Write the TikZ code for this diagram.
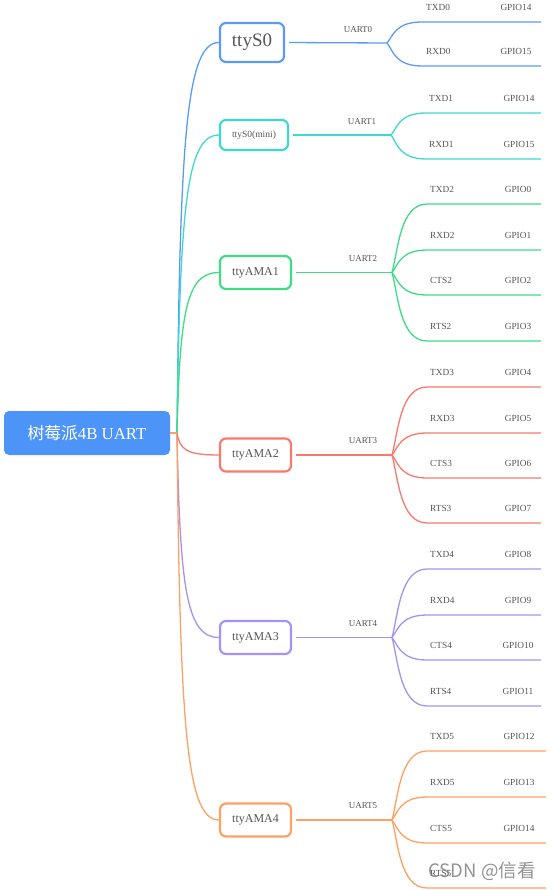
\documentclass[tikz,border=0pt]{standalone}
\usepackage{fontspec}
\setmainfont{Liberation Serif}
\newfontfamily\cjk{Noto Sans CJK SC}
\usetikzlibrary{calc}
\definecolor{cblue}{HTML}{5B9BF6}
\definecolor{rootblue}{HTML}{4D94F8}
\definecolor{cteal}{HTML}{3FD8D0}
\definecolor{cgreen}{HTML}{3EDC85}
\definecolor{cred}{HTML}{F87A6C}
\definecolor{cpurple}{HTML}{A592F2}
\definecolor{corange}{HTML}{FFA064}
\definecolor{txt}{HTML}{555555}
\tikzset{
  rootbox/.style={fill=rootblue, rounded corners=5pt, minimum width=166pt, minimum height=44pt,
    text=white, inner sep=0pt, font=\fontsize{16.8}{18}\selectfont},
  ttybox/.style={draw=#1, line width=2.2pt, fill=white, rounded corners=6pt, text=txt,
    inner sep=0pt, minimum width=71pt, minimum height=33pt, font=\fontsize{12}{14}\selectfont},
  conn/.style={draw=#1, line width=1.3pt},
  lab/.style={text=txt, inner sep=0pt, font=\fontsize{9}{10}\selectfont},
  leaflab/.style={text=txt, inner sep=0pt, font=\fontsize{9.3}{10}\selectfont},
}
\newcommand\drawleaves[8]{%
  \foreach \ly/\la/\lg [count=\k] in {#8}{%
    \pgfmathsetmacro\cya{#4+(\ly-#4)*0.32}%
    \coordinate (#2s\k) at (#3+35,\ly);
    \coordinate (#2e\k) at (#7,\ly);
    \draw[conn=#1] (#2b) .. controls (#3+6,\cya) and (#3+8,\ly) .. (#2s\k) -- (#2e\k);
    \node[leaflab,anchor=west] (#2a\k) at (#5,\ly-14.5) {\la};
    \node[leaflab] (#2g\k) at (#6,\ly-14.5) {\lg};
  }%
}
\newcommand\rootlink[3]{% colour, node, y
  \pgfmathsetmacro\rmid{#3+(433-#3)*0.25}%
  \draw[conn=#1] (hub) .. controls (180,\rmid) and (186,#3) .. (#2.west);
}
\begin{document}
\begin{tikzpicture}[x=1pt,y=-1pt]
\useasboundingbox (0,0) rectangle (553,890);
% root
\node[rootbox] (root) at (87,433) {{\cjk 树莓派}4B UART};
\coordinate (hub) at (177,433);
% level 1
\node[ttybox=cblue, minimum width=64pt, minimum height=39pt, font=\fontsize{19}{21}\selectfont] (n0) at (252,42.5) {ttyS0};
\node[ttybox=cteal, minimum width=68pt, minimum height=30pt, font=\fontsize{9.5}{11}\selectfont] (n1) at (254,135) {ttyS0(mini)};
\node[ttybox=cgreen] (n2) at (255.5,272.5) {ttyAMA1};
\node[ttybox=cred] (n3) at (255.5,455) {ttyAMA2};
\node[ttybox=cpurple] (n4) at (255.5,637.5) {ttyAMA3};
\node[ttybox=corange] (n5) at (255.5,820) {ttyAMA4};
% root connectors
\rootlink{cblue}{n0}{42.5}
\rootlink{cteal}{n1}{135}
\rootlink{cgreen}{n2}{272.5}
\rootlink{cpurple}{n4}{637.5}
\rootlink{corange}{n5}{820}
\rootlink{cred}{n3}{455}
\draw[conn=corange] (root.east) -- (hub);
% branch points
\coordinate (gAb) at (387,43);
\coordinate (gBb) at (391,135);
\coordinate (gCb) at (392,272.5);
\coordinate (gDb) at (392,455);
\coordinate (gEb) at (392,637.5);
\coordinate (gFb) at (392,820);
\draw[conn=cblue,shorten <=4pt] (n0.east) -- (gAb);
\draw[conn=cteal,shorten <=4pt] (n1.east) -- (gBb);
\draw[conn=cgreen,shorten <=4pt] (n2.east) -- (gCb);
\draw[conn=cred,shorten <=4pt] (n3.east) -- (gDb);
\draw[conn=cpurple,shorten <=4pt] (n4.east) -- (gEb);
\draw[conn=corange,shorten <=4pt] (n5.east) -- (gFb);
\node[lab] (u0) at (358,30) {UART0};
\node[lab] (u1) at (362,122) {UART1};
\node[lab] (u2) at (363,259) {UART2};
\node[lab] (u3) at (363,441) {UART3};
\node[lab] (u4) at (363,624) {UART4};
\node[lab] (u5) at (363,806) {UART5};
% leaves
\drawleaves{cblue}{gA}{387}{43}{426}{516}{541}{22/TXD0/GPIO14,66/RXD0/GPIO15}
\drawleaves{cteal}{gB}{391}{135}{429}{519}{541}{113/TXD1/GPIO14,159/RXD1/GPIO15}
\drawleaves{cgreen}{gC}{392}{272.5}{430}{518}{541}{204/TXD2/GPIO0,250/RXD2/GPIO1,295/CTS2/GPIO2,341/RTS2/GPIO3}
\drawleaves{cred}{gD}{392}{455}{430}{518}{541}{387/TXD3/GPIO4,433/RXD3/GPIO5,478/CTS3/GPIO6,523/RTS3/GPIO7}
\drawleaves{cpurple}{gE}{392}{637.5}{430}{518}{541}{569/TXD4/GPIO8,615/RXD4/GPIO9,660/CTS4/GPIO10,706/RTS4/GPIO11}
\drawleaves{corange}{gF}{392}{820}{430}{519}{546}{751/TXD5/GPIO12,797/RXD5/GPIO13,843/CTS5/GPIO14}
\pgfmathsetmacro\cyb{820+(888-820)*0.32}
\coordinate (gFs4) at (427,888);
\coordinate (gFe4) at (546,888);
\draw[conn=corange] (gFb) .. controls (398,\cyb) and (400,888) .. (gFs4) -- (gFe4);
\node[leaflab,anchor=west] (gFa4) at (430,873.5) {RTS5};
% watermark
\node[text=black!50, opacity=0.85, inner sep=0pt, font=\cjk\fontsize{18.5}{19}\selectfont] (wm) at (482,871) {CSDN @信看};
\end{tikzpicture}
\end{document}
